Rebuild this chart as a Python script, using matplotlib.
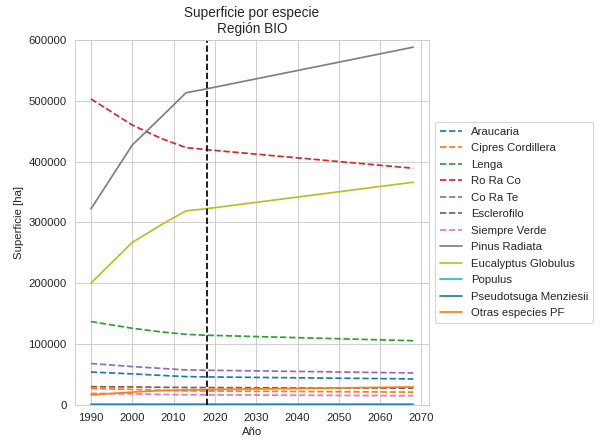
import matplotlib
matplotlib.use("Agg")
import matplotlib.pyplot as plt
from matplotlib.ticker import MultipleLocator
import seaborn as sns

years = [1990, 2000, 2007, 2013, 2018, 2068]

# superficie [ha] por especie
araucaria = [54000, 51000, 48500, 46500, 46000, 42700]
cipres = [27000, 25500, 24000, 23000, 22800, 21000]
lenga = [137000, 126000, 120000, 116000, 114500, 105500]
ro_ra_co = [503000, 460000, 438000, 423000, 419500, 389000]
co_ra_te = [68000, 63000, 60000, 57500, 57000, 52500]
esclerofilo = [30000, 29500, 29000, 28600, 28500, 27500]
siempre_verde = [19000, 18000, 17200, 16600, 16500, 15000]
pinus = [322000, 427000, 473000, 513000, 519500, 588000]
eucalyptus = [200000, 267000, 296000, 319000, 322500, 366000]
populus = [1000, 1000, 1000, 1000, 1000, 1000]
pseudotsuga = [300, 300, 300, 300, 300, 300]
otras_pf = [16500, 21000, 23500, 24700, 25200, 29500]

nativas = [
    ("Araucaria", araucaria),
    ("Cipres Cordillera", cipres),
    ("Lenga", lenga),
    ("Ro Ra Co", ro_ra_co),
    ("Co Ra Te", co_ra_te),
    ("Esclerofilo", esclerofilo),
    ("Siempre Verde", siempre_verde),
]
plantaciones = [
    ("Pinus Radiata", pinus),
    ("Eucalyptus Globulus", eucalyptus),
    ("Populus", populus),
    ("Pseudotsuga Menziesii", pseudotsuga),
    ("Otras especies PF", otras_pf),
]

anio_actual = 2018

sns.set_style("whitegrid")
plt.rcParams["font.family"] = ["Liberation Sans", "DejaVu Sans"]
palette = sns.color_palette("tab10")

dpi = 82
fig, ax = plt.subplots(figsize=(603 / dpi, 443 / dpi), dpi=dpi)
fig.subplots_adjust(left=0.124, right=0.712, top=0.91, bottom=0.086)

i = 0
for nombre, vals in nativas:
    ax.plot(years, vals, "--", color=palette[i % 10], label=nombre, lw=1.5)
    i += 1
for nombre, vals in plantaciones:
    ax.plot(years, vals, "-", color=palette[i % 10], label=nombre, lw=1.5)
    i += 1

ax.axvline(anio_actual, color="k", ls="--", lw=1.5)

ax.set_ylim(0, 600000)
ax.xaxis.set_major_locator(MultipleLocator(10))
ax.ticklabel_format(axis="y", style="plain")
ax.set_title("Superficie por especie\nRegión BIO")
ax.set_xlabel("Año")
ax.set_ylabel("Superficie [ha]")
ax.legend(loc="center left", bbox_to_anchor=(1, 0.5), labelspacing=0.57)

fig.savefig("out.png", dpi=dpi)
